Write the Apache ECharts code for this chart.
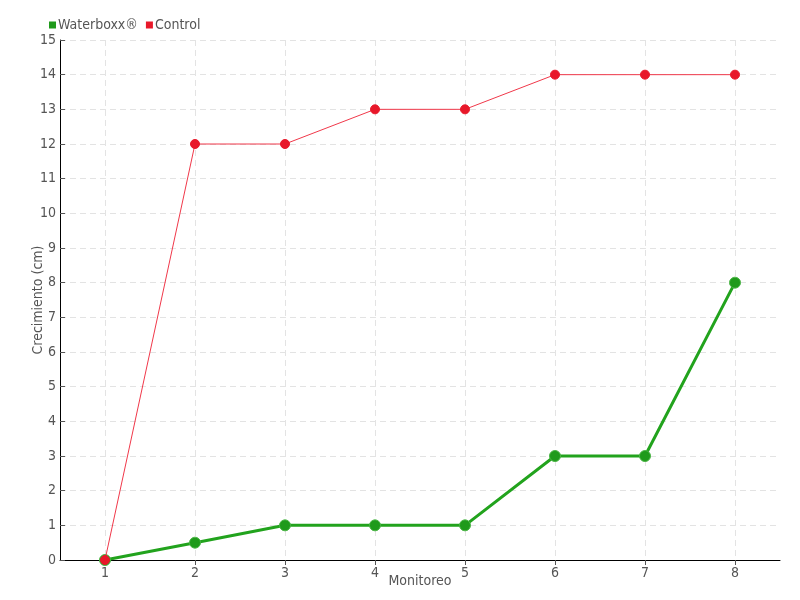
<!DOCTYPE html>
<html><head><meta charset="utf-8">
<script src="https://cdn.jsdelivr.net/npm/echarts@6/dist/echarts.min.js"></script>
<style>html,body{margin:0;padding:0;background:#fff}#c{width:800px;height:600px}</style>
</head><body><div id="c"></div>
<script>
const categories = ['1','2','3','4','5','6','7','8'];
const waterboxx = [0, 0.5, 1, 1, 1, 3, 3, 8];
const control = [0, 12, 12, 13, 13, 14, 14, 14];
const yTicks = [0,1,2,3,4,5,6,7,8,9,10,11,12,13,14,15];

const FONT = '"Liberation Sans Narrow", "DejaVu Sans Condensed", sans-serif';
const chart = echarts.init(document.getElementById('c'));
chart.setOption({
  animation: false,
  textStyle: {fontFamily: FONT, color: '#555'},
  legend: {
    left: 44, top: 13, itemWidth: 7, itemHeight: 7, itemGap: 8,
    icon: 'rect',
    itemStyle: {borderWidth: 0},
    textStyle: {fontFamily: FONT, fontSize: 14, color: '#555', padding: [0,0,0,-3]},
    data: ['Waterboxx®', 'Control']
  },
  grid: {left: 60, right: 20, top: 40, bottom: 40, outerBoundsMode: 'none', containLabel: false},
  xAxis: {
    type: 'category', data: categories, boundaryGap: true,
    name: 'Monitoreo', nameLocation: 'middle', nameGap: 14, nameMoveOverlap: false,
    nameTextStyle: {fontFamily: FONT, fontSize: 14, color: '#555'},
    axisLine: {lineStyle: {color: '#000'}},
    axisTick: {show: true, alignWithLabel: true, length: 5, lineStyle: {color: '#555'}},
    axisLabel: {fontFamily: FONT, fontSize: 14, color: '#555', margin: 6},
    splitLine: {show: true, alignWithLabel: true, lineStyle: {color: '#e3e3e3', type: [6,4]}}
  },
  yAxis: {
    type: 'value', min: 0, max: 15, interval: 1,
    name: 'Crecimiento (cm)', nameLocation: 'middle', nameGap: 15, nameMoveOverlap: false,
    nameTextStyle: {fontFamily: FONT, fontSize: 14, color: '#555'},
    axisLine: {show: true, lineStyle: {color: '#000'}},
    axisTick: {show: true, length: 5, inside: true, lineStyle: {color: '#555'}},
    axisLabel: {fontFamily: FONT, fontSize: 14, color: '#555', margin: 4,
      formatter: v => yTicks.includes(v) ? String(v) : ''},
    splitLine: {show: true, lineStyle: {color: '#e3e3e3', type: [6,4]}}
  },
  series: [
    {
      name: 'Waterboxx®', type: 'line', data: waterboxx,
      symbol: 'circle', symbolSize: 11,
      lineStyle: {width: 3, color: '#22a31d'},
      itemStyle: {color: '#1f9a1b', borderColor: '#4bb546', borderWidth: 1},
      z: 2
    },
    {
      name: 'Control', type: 'line', data: control,
      symbol: 'circle', symbolSize: 9,
      lineStyle: {width: 1, color: '#f0384a'},
      itemStyle: {color: '#e8182a', borderColor: '#e8182a'},
      z: 3
    }
  ]
});
</script></body></html>
